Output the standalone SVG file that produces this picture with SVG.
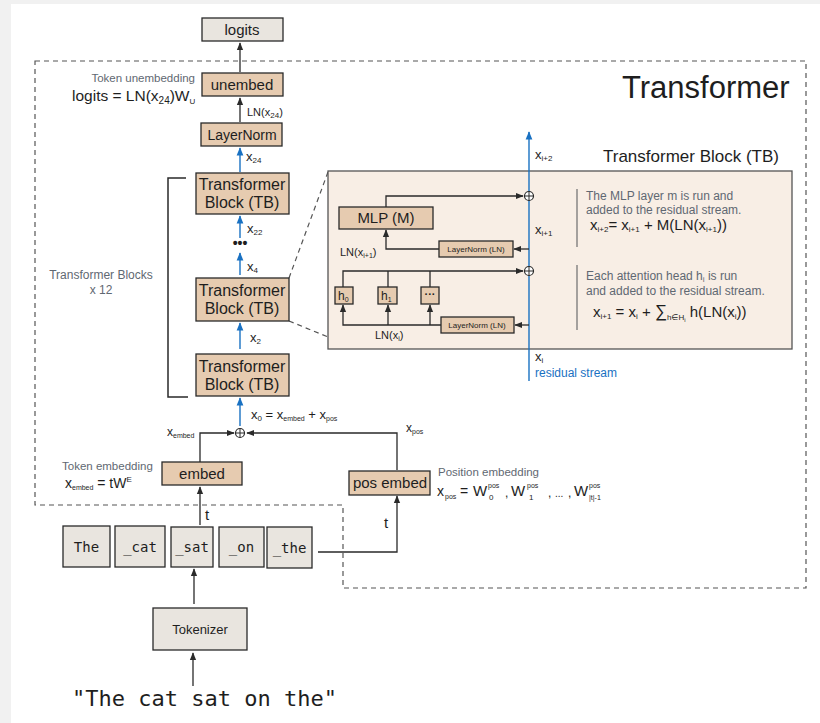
<svg xmlns="http://www.w3.org/2000/svg" width="820" height="723" viewBox="0 0 820 723">
<defs>
<style>
.bx{stroke:#2a2a2a;stroke-width:1.3}
.tan{fill:#e6cbb0}
.gry{fill:#e9e5df}
.pnl{fill:#f8eee5;stroke:#555;stroke-width:1.3}
text{font-family:"Liberation Sans","DejaVu Sans",sans-serif;fill:#1e1e1e}
.mono{font-family:"DejaVu Sans Mono","Liberation Mono",monospace}
.lbl{fill:#5f6872}
.c{text-anchor:middle}
.ln{fill:none;stroke:#2a2a2a;stroke-width:1.3}
.bl{fill:none;stroke:#1971c2;stroke-width:1.4}
.dash{fill:none;stroke:#555;stroke-width:1.2;stroke-dasharray:5 4}
</style>
<marker id="ah" viewBox="0 0 10 10" refX="9" refY="5" markerWidth="6" markerHeight="6" orient="auto"><path d="M0,1 L10,5 L0,9 z" fill="#2a2a2a"/></marker>
<marker id="ahb" viewBox="0 0 10 10" refX="9" refY="5" markerWidth="6" markerHeight="6" orient="auto"><path d="M0,1 L10,5 L0,9 z" fill="#1971c2"/></marker>
</defs>
<rect x="0" y="0" width="820" height="723" fill="#f1f1f1"/>
<rect x="11" y="4" width="809" height="719" fill="#ffffff"/>

<!-- dashed transformer boundary -->
<path class="dash" d="M35,61 H806 V588 H343 V505 H35 Z"/>
<text x="622" y="98" font-size="31">Transformer</text>

<g id="connectors">
<path class="ln" d="M240,72 V43" marker-end="url(#ah)"/>
<path class="ln" d="M240,122 V98" marker-end="url(#ah)"/>
<path class="bl" d="M240,172 V148" marker-end="url(#ahb)"/>
<path class="bl" d="M240,238 V216" marker-end="url(#ahb)"/>
<path class="bl" d="M240,275 V253" marker-end="url(#ahb)"/>
<path class="bl" d="M240,349 V323" marker-end="url(#ahb)"/>
<path class="bl" d="M240,426 V398" marker-end="url(#ahb)"/>
<path class="ln" d="M200,462 V433 H234" marker-end="url(#ah)"/>
<path class="ln" d="M397,470 V433 H247" marker-end="url(#ah)"/>
<path class="ln" d="M200,525 V487" marker-end="url(#ah)"/>
<path class="ln" d="M318,552 H397 V496" marker-end="url(#ah)"/>
<path class="ln" d="M194,604 V569" marker-end="url(#ah)"/>
<path class="ln" d="M193,686 V653" marker-end="url(#ah)"/>
<path class="dash" d="M289,278 L328,172 M289,321 L328,337"/>
<path d="M186,178 H168 V397 H188" fill="none" stroke="#2a2a2a" stroke-width="1.5"/>
</g>

<!-- plus node at input -->
<g id="sum0">
<circle cx="240" cy="433" r="4.5" fill="#fff" stroke="#2a2a2a" stroke-width="1.2"/>
<path d="M235.5,433 H244.5 M240,428.5 V437.5" stroke="#2a2a2a" stroke-width="1"/>
</g>

<g id="logits">
<rect class="bx gry" x="202" y="18" width="81" height="23"/>
<text class="c" x="242" y="35" font-size="15">logits</text>
</g>

<g id="unembed">
<rect class="bx tan" x="202" y="73" width="81" height="23"/>
<text class="c" x="242" y="90" font-size="15">unembed</text>
<text class="lbl" x="195" y="82" font-size="11.5" text-anchor="end">Token unembedding</text>
<text x="72" y="101" font-size="15.5">logits = LN(x<tspan font-size="10" dy="3">24</tspan><tspan dy="-3">)W</tspan><tspan font-size="8" dy="3">U</tspan></text>
<text x="247" y="116" font-size="11">LN(x<tspan font-size="8" dy="2">24</tspan><tspan dy="-2">)</tspan></text>
</g>

<g id="layernorm">
<rect class="bx tan" x="201" y="123" width="81" height="23"/>
<text class="c" x="242" y="140" font-size="14">LayerNorm</text>
<text x="246" y="161" font-size="13">x<tspan font-size="8" dy="2">24</tspan></text>
</g>

<g id="tb1">
<rect class="bx tan" x="196" y="173" width="93" height="41"/>
<text class="c" x="242" y="190" font-size="16">Transformer</text>
<text class="c" x="242" y="208" font-size="16">Block (TB)</text>
<text x="247" y="233" font-size="13">x<tspan font-size="8" dy="2">22</tspan></text>
<text class="c" x="240" y="248" font-size="14" font-weight="bold">•••</text>
<text x="247" y="271" font-size="13">x<tspan font-size="8" dy="2">4</tspan></text>
</g>

<g id="tb2">
<rect class="bx tan" x="196" y="278" width="93" height="43"/>
<text class="c" x="242" y="296" font-size="16">Transformer</text>
<text class="c" x="242" y="314" font-size="16">Block (TB)</text>
<text x="250" y="342" font-size="13">x<tspan font-size="8" dy="2">2</tspan></text>
</g>

<g id="tb3">
<rect class="bx tan" x="196" y="354" width="93" height="42"/>
<text class="c" x="242" y="372" font-size="16">Transformer</text>
<text class="c" x="242" y="390" font-size="16">Block (TB)</text>
<text x="251" y="419" font-size="13">x<tspan font-size="8" dy="2">0</tspan><tspan dy="-2"> = x</tspan><tspan font-size="7" dy="2">embed</tspan><tspan dy="-2">  + x</tspan><tspan font-size="7" dy="2">pos</tspan></text>
</g>

<g id="blocks-label">
<text class="lbl c" x="101" y="279" font-size="12">Transformer Blocks</text>
<text class="lbl c" x="101" y="294" font-size="12">x 12</text>
</g>

<g id="embed">
<rect class="bx tan" x="162" y="462" width="80" height="23"/>
<text class="c" x="202" y="479" font-size="15">embed</text>
<text class="lbl" x="62" y="470" font-size="11.5">Token embedding</text>
<text x="65" y="488" font-size="14">x<tspan font-size="7" dy="2">embed</tspan><tspan dy="-2"> = tW</tspan><tspan font-size="8" dy="-6">E</tspan></text>
<text x="167" y="436" font-size="12">x<tspan font-size="7" dy="2">embed</tspan></text>
<text x="205" y="520" font-size="15">t</text>
</g>

<g id="pos-embed">
<rect class="bx tan" x="349" y="471" width="81" height="24"/>
<text class="c" x="390" y="488" font-size="15">pos embed</text>
<text class="lbl" x="438" y="476" font-size="11.5">Position embedding</text>
<text x="406" y="432" font-size="12">x<tspan font-size="7" dy="2">pos</tspan></text>
<text x="384" y="528" font-size="15">t</text>
<text x="437" y="496" font-size="14">x</text>
<text x="445" y="499" font-size="7">pos</text>
<text x="460" y="496" font-size="14">=</text>
<text x="473" y="496" font-size="15">W</text>
<text x="488" y="488" font-size="7">pos</text>
<text x="489" y="500" font-size="8">0</text>
<text x="505" y="497" font-size="12">,</text>
<text x="511" y="496" font-size="15">W</text>
<text x="527" y="488" font-size="7">pos</text>
<text x="529" y="500" font-size="8">1</text>
<text x="548" y="497" font-size="12">,</text>
<text x="555" y="497" font-size="10">...</text>
<text x="568" y="497" font-size="12">,</text>
<text x="574" y="496" font-size="15">W</text>
<text x="589" y="488" font-size="7">pos</text>
<text x="589" y="500" font-size="7">|t|-1</text>
</g>

<g id="tokens">
<g id="tok-the"><rect class="bx gry" x="63" y="526" width="47" height="41"/><text class="mono c" x="86.5" y="552" font-size="14">The</text></g>
<g id="tok-cat"><rect class="bx gry" x="115" y="526" width="50" height="41"/><text class="mono c" x="140" y="552" font-size="14">_cat</text></g>
<g id="tok-sat"><rect class="bx gry" x="171" y="527" width="42" height="40"/><text class="mono c" x="192" y="552" font-size="14">_sat</text></g>
<g id="tok-on"><rect class="bx gry" x="219" y="527" width="45" height="40"/><text class="mono c" x="241.5" y="552" font-size="14">_on</text></g>
<g id="tok-the2"><rect class="bx gry" x="267" y="527" width="45" height="41"/><text class="mono c" x="289.5" y="553" font-size="14">_the</text></g>
</g>

<g id="tokenizer">
<rect class="bx gry" x="153" y="608" width="94" height="42"/>
<text class="c" x="200" y="634" font-size="13">Tokenizer</text>
</g>

<g id="input-text">
<text class="mono" x="72" y="706" font-size="22">"The cat sat on the"</text>
</g>

<!-- Transformer block detail -->
<g id="tb-detail">
<rect class="pnl" x="328" y="171" width="464" height="178"/>
<text x="603" y="162" font-size="17">Transformer Block (TB)</text>
<path class="bl" d="M529,381 V132" marker-end="url(#ahb)"/>
<text x="535" y="159" font-size="13">x<tspan font-size="8" dy="2">i+2</tspan></text>
<text x="535" y="234" font-size="13">x<tspan font-size="8" dy="2">i+1</tspan></text>
<text x="535" y="361" font-size="13">x<tspan font-size="8" dy="2">i</tspan></text>
<text x="535" y="377" font-size="12" fill="#1971c2" style="fill:#1971c2">residual stream</text>

<g id="sum-mlp">
<circle cx="529" cy="196" r="4.5" fill="#fff" stroke="#2a2a2a" stroke-width="1.2"/>
<path d="M524.5,196 H533.5 M529,191.5 V200.5" stroke="#2a2a2a" stroke-width="1"/>
</g>
<g id="sum-attn">
<circle cx="529" cy="271" r="4.5" fill="#fff" stroke="#2a2a2a" stroke-width="1.2"/>
<path d="M524.5,271 H533.5 M529,266.5 V275.5" stroke="#2a2a2a" stroke-width="1"/>
</g>

<g id="panel-connectors">
<path class="ln" d="M386,207 V196 H523" marker-end="url(#ah)"/>
<path class="ln" d="M529,249 H514" marker-end="url(#ah)"/>
<path class="ln" d="M439,249 H386 V230" marker-end="url(#ah)"/>
<path class="ln" d="M343,287 V271 H523" marker-end="url(#ah)"/>
<path class="ln" d="M388,287 V271 M430,287 V271"/>
<path class="ln" d="M529,325 H515" marker-end="url(#ah)"/>
<path class="ln" d="M441,325 H343 V305" marker-end="url(#ah)"/>
<path class="ln" d="M388,325 V305" marker-end="url(#ah)"/>
<path class="ln" d="M430,325 V305" marker-end="url(#ah)"/>
</g>

<g id="mlp">
<rect class="bx tan" x="339" y="207" width="94" height="22"/>
<text class="c" x="386" y="223" font-size="15">MLP (M)</text>
</g>
<g id="ln-upper">
<rect class="bx tan" x="439" y="241" width="74" height="16"/>
<text class="c" x="476" y="252" font-size="8">LayerNorm (LN)</text>
</g>
<text x="340" y="256" font-size="11">LN(x<tspan font-size="7" dy="2">i+1</tspan><tspan dy="-2">)</tspan></text>
<g id="h0">
<rect class="bx tan" x="335" y="287" width="18" height="17"/>
<text x="338" y="300" font-size="12">h<tspan font-size="7" dy="2">0</tspan></text>
</g>
<g id="h1">
<rect class="bx tan" x="378" y="287" width="19" height="17"/>
<text x="381" y="300" font-size="12">h<tspan font-size="7" dy="2">1</tspan></text>
</g>
<g id="hdots">
<rect class="bx tan" x="421" y="287" width="18" height="17"/>
<text class="c" x="430" y="298" font-size="11" font-weight="bold">···</text>
</g>
<g id="ln-lower">
<rect class="bx tan" x="441" y="317" width="73" height="16"/>
<text class="c" x="477" y="328" font-size="8">LayerNorm (LN)</text>
</g>
<text x="375" y="339" font-size="11">LN(x<tspan font-size="7" dy="2">i</tspan><tspan dy="-2">)</tspan></text>

<path d="M577,189 V247 M577,265 V330" stroke="#777" stroke-width="1.3"/>
<text class="lbl" x="586" y="200" font-size="12">The MLP layer m is run and</text>
<text class="lbl" x="586" y="214" font-size="12">added to the residual stream.</text>
<text x="590" y="230" font-size="15">x<tspan font-size="8" dy="2">i+2</tspan><tspan dy="-2">= x</tspan><tspan font-size="8" dy="2">i+1</tspan><tspan dy="-2"> + M(LN(x</tspan><tspan font-size="8" dy="2">i+1</tspan><tspan dy="-2">))</tspan></text>
<text class="lbl" x="586" y="280" font-size="12">Each attention head h<tspan font-size="8" dy="2">i</tspan><tspan dy="-2"> is run</tspan></text>
<text class="lbl" x="586" y="295" font-size="12">and added to the residual stream.</text>
<text x="593" y="317" font-size="15">x<tspan font-size="8" dy="2">i+1</tspan><tspan dy="-2"> = x</tspan><tspan font-size="8" dy="2">i</tspan><tspan dy="-2"> + </tspan><tspan font-size="17">∑</tspan><tspan font-size="8" dy="3">h∈H</tspan><tspan font-size="6" dy="2">i</tspan><tspan dy="-5"> h(LN(x</tspan><tspan font-size="8" dy="2">i</tspan><tspan dy="-2">))</tspan></text>
</g>
</svg>
